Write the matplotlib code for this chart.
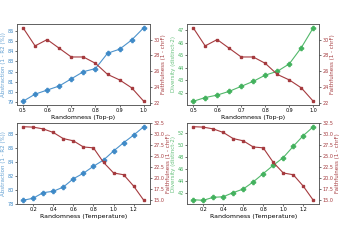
import numpy as np
import matplotlib
matplotlib.use('Agg')
import matplotlib.pyplot as plt
from matplotlib.ticker import MultipleLocator

# top-p sweep
top_p = [0.5, 0.55, 0.6, 0.65, 0.7, 0.75, 0.8, 0.85, 0.9, 0.95, 1.0]
abs_p = [79.1, 79.8, 80.2, 80.6, 81.3, 82.0, 82.3, 83.8, 84.2, 85.1, 86.3]
div_p = [41.3, 41.6, 41.8, 42.1, 42.5, 42.9, 43.4, 43.7, 44.3, 45.6, 47.2]
faith_p = [31.5, 29.2, 30.0, 28.9, 27.8, 27.8, 27.0, 25.6, 24.9, 23.9, 22.2]

# temperature sweep
temp = [0.1, 0.2, 0.3, 0.4, 0.5, 0.6, 0.7, 0.8, 0.9, 1.0, 1.1, 1.2, 1.3]
abs_t = [78.5, 78.8, 79.6, 79.8, 80.4, 81.6, 82.4, 83.4, 84.3, 85.6, 86.8, 87.9, 89.1]
div_t = [40.8, 40.7, 41.2, 41.3, 42.0, 42.6, 43.8, 45.2, 46.6, 47.9, 49.8, 51.6, 53.1]
faith_t = [31.7, 31.6, 31.2, 30.4, 29.0, 28.5, 27.1, 26.9, 23.6, 21.2, 20.8, 18.2, 15.0]

blue = '#3a87c6'
green = '#3fb05a'
red = '#a53a3e'

fig = plt.figure(figsize=(3.39, 2.40), dpi=100)

panels = [
    ([0.050, 0.5625, 0.392, 0.3375], top_p, abs_p, faith_p, blue,
     'Abstraction (1 - R2 (%))', 'Randomness (Top-p)', 1, 2, 0.1),
    ([0.552, 0.5625, 0.390, 0.3375], top_p, div_p, faith_p, green,
     'Diversity (distinct-2)', 'Randomness (Top-p)', 1, 2, 0.1),
    ([0.050, 0.150, 0.392, 0.3375], temp, abs_t, faith_t, blue,
     'Abstraction (1 - R2 (%))', 'Randomness (Temperature)', 2, 2.5, 0.2),
    ([0.552, 0.150, 0.390, 0.3375], temp, div_t, faith_t, green,
     'Diversity (distinct-2)', 'Randomness (Temperature)', 2, 2.5, 0.2),
]

for rect, x, y1, y2, c, lab1, xlab, st1, st2, stx in panels:
    ax = fig.add_axes(rect)
    ax.plot(x, y1, color=c, marker='P', markersize=3, linewidth=0.8, alpha=0.9)
    ax.set_ylabel(lab1, color=c, fontsize=4, labelpad=1, alpha=0.8)
    ax.set_xlabel(xlab, fontsize=4.5, labelpad=1)
    ax.yaxis.set_major_locator(MultipleLocator(st1))
    ax.xaxis.set_major_locator(MultipleLocator(stx))
    ax.tick_params(axis='y', labelcolor=c, labelsize=3.5, length=1.5, pad=1, width=0.4)
    ax.tick_params(axis='x', labelsize=3.5, length=1.5, pad=1, width=0.4)
    ax2 = ax.twinx()
    ax2.plot(x, y2, color=red, marker='s', markersize=1.8, linewidth=0.8)
    ax2.set_ylabel('Faithfulness (1 - chrF)', color=red, fontsize=4, labelpad=1)
    ax2.yaxis.set_major_locator(MultipleLocator(st2))
    if st2 == 2.5:
        ax2.yaxis.set_major_formatter('{x:.1f}')
    ax2.tick_params(axis='y', labelcolor=red, labelsize=3.5, length=1.5, pad=1, width=0.4)
    for a in (ax, ax2):
        for s in a.spines.values():
            s.set_linewidth(0.5)
            s.set_color('#555555')

fig.savefig('out.png', dpi=100)
